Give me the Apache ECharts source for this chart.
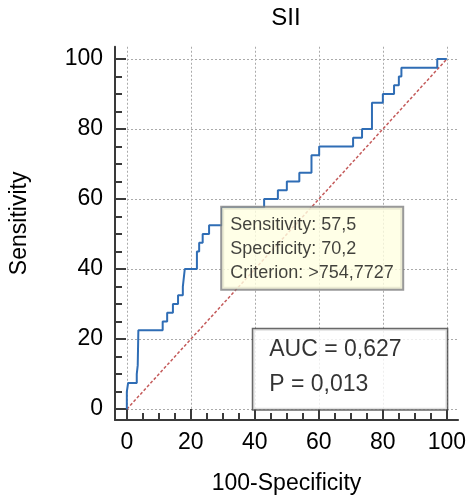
<!DOCTYPE html>
<html>
<head>
<meta charset="utf-8">
<script src="https://cdn.jsdelivr.net/npm/echarts@6.0.0/dist/echarts.min.js"></script>
<style>
html,body{margin:0;padding:0;background:#fff;}
#chart{width:469px;height:502px;}
</style>
</head>
<body>
<div id="chart"></div>
<script>
// ---- data ----
const chartTitle = 'SII';
const xName = '100-Specificity';
const yName = 'Sensitivity';
const tickValues = [0, 20, 40, 60, 80, 100];
const minorTickValues = [5, 10, 15, 25, 30, 35, 45, 50, 55, 65, 70, 75, 85, 90, 95];
// ROC curve vertices: 100-Specificity (x) and Sensitivity (y)
const rocFPR = [0, 0, 0.4, 0.4, 3.1, 3.1, 3.4, 3.4, 3.6, 3.6, 11.2, 11.2, 12.6, 12.6, 14.4, 14.4, 16, 16, 17.5, 17.5,
  18.1, 18.1, 21.9, 21.9, 22.6, 22.6, 23.7, 23.7, 25.7, 25.7, 29.8, 29.8, 42.9, 42.9, 47.2, 47.2, 50, 50, 53.9, 53.9,
  57.7, 57.7, 60.1, 60.1, 70.7, 70.7, 73.5, 73.5, 76.6, 76.6, 80, 80, 83.5, 83.5, 85, 85, 85.8, 85.8, 97, 97, 100];
const rocTPR = [0, 5, 5, 7.5, 7.5, 10, 10, 12.5, 12.5, 22.5, 22.5, 25, 25, 27.5, 27.5, 30, 30, 32.5, 32.5, 35,
  35, 40, 40, 45, 45, 47.5, 47.5, 50, 50, 52.5, 52.5, 57.5, 57.5, 60, 60, 62.5, 62.5, 65, 65, 67.5,
  67.5, 72.5, 72.5, 75, 75, 77.5, 77.5, 80, 80, 87.5, 87.5, 90, 90, 92.5, 92.5, 95, 95, 97.5, 97.5, 100, 100];
const diagX = [0, 100];
const diagY = [0, 100];
const criterionPoint = [29.8, 57.5];
const criterionLines = ['Sensitivity: 57,5', 'Specificity: 70,2', 'Criterion: >754,7727'];
const aucAnchor = [100, 0];
const aucLines = ['AUC = 0,627', 'P = 0,013'];

// ---- chart ----
const FONT = 'Liberation Sans, Arial, sans-serif';
const X_MIN = -3.7, X_MAX = 103.5, Y_MIN = -3.1, Y_MAX = 103.5;
const axisColor = '#3a3a3a';
const zip = (a, b) => a.map((v, i) => [v, b[i]]);

const chart = echarts.init(document.getElementById('chart'), null, {renderer: 'canvas'});

function mainAxis(name, isX) {
  return {
    type: 'value', min: isX ? X_MIN : Y_MIN, max: isX ? X_MAX : Y_MAX,
    position: isX ? 'bottom' : 'left',
    axisLine: {show: true, onZero: false, lineStyle: {color: axisColor, width: 2}},
    axisTick: {show: true, inside: true, length: 11, customValues: tickValues, lineStyle: {color: axisColor, width: 2}},
    axisLabel: {show: true, customValues: tickValues, margin: isX ? 11 : 12, fontSize: 23, color: '#000', fontFamily: FONT},
    splitLine: {show: true, lineStyle: {type: [2, 2], color: '#aaaaaa', width: 1}},
    name: name, nameLocation: 'middle', nameGap: isX ? 52 : 84,
    nameTextStyle: isX ? {fontSize: 23, color: '#000', fontFamily: FONT}
                       : {fontSize: 23, color: '#000', fontFamily: FONT, padding: [0, 0, 0, 20]}
  };
}
function minorAxis(isX) {
  return {
    type: 'value', min: isX ? X_MIN : Y_MIN, max: isX ? X_MAX : Y_MAX,
    position: isX ? 'bottom' : 'left',
    axisLine: {show: false, onZero: false},
    axisTick: {show: true, inside: true, length: 7, customValues: minorTickValues, lineStyle: {color: axisColor, width: 2}},
    axisLabel: {show: false},
    splitLine: {show: false}
  };
}

const option = {
  animation: false,
  backgroundColor: '#ffffff',
  textStyle: {fontFamily: FONT},
  grid: {left: 114, right: 9, top: 46.75, bottom: 82, containLabel: false},
  graphic: [{
    type: 'text', x: 286, y: 6,
    style: {text: chartTitle, fontSize: 24, fontFamily: FONT, fill: '#000', align: 'center', verticalAlign: 'top'}
  }],
  xAxis: [mainAxis(xName, true), minorAxis(true)],
  yAxis: [mainAxis(yName, false), minorAxis(false)],
  series: [
    {
      type: 'line', data: zip(diagX, diagY), symbol: 'none', z: 2, silent: true,
      lineStyle: {color: '#c45a5a', width: 1.5, type: [3, 2]}
    },
    {
      type: 'line', data: zip(rocFPR, rocTPR), symbol: 'none', z: 3, silent: true,
      lineStyle: {color: '#2f6db5', width: 2}
    },
    {
      type: 'scatter', data: [criterionPoint], symbolSize: 0, z: 10, silent: true,
      itemStyle: {color: 'transparent'},
      label: {
        show: true, position: [0, 0], formatter: criterionLines.join('\n'),
        fontSize: 18, lineHeight: 24, color: '#111', fontFamily: FONT, align: 'left',
        width: 164, padding: [5, 8, 4, 8],
        backgroundColor: '#ffffe1', borderColor: '#808080', borderWidth: 2
      }
    },
    {
      type: 'scatter', data: [aucAnchor], symbolSize: 0, z: 10, silent: true,
      itemStyle: {color: 'transparent'},
      label: {
        show: true, position: [-193.6, -80], formatter: aucLines.join('\n'),
        fontSize: 23, lineHeight: 35, color: '#000', fontFamily: FONT, align: 'left',
        width: 161.6, padding: [3, 16, 7, 16],
        backgroundColor: '#ffffff', borderColor: '#444444', borderWidth: 1.5
      }
    }
  ]
};
chart.setOption(option);
</script>
</body>
</html>
